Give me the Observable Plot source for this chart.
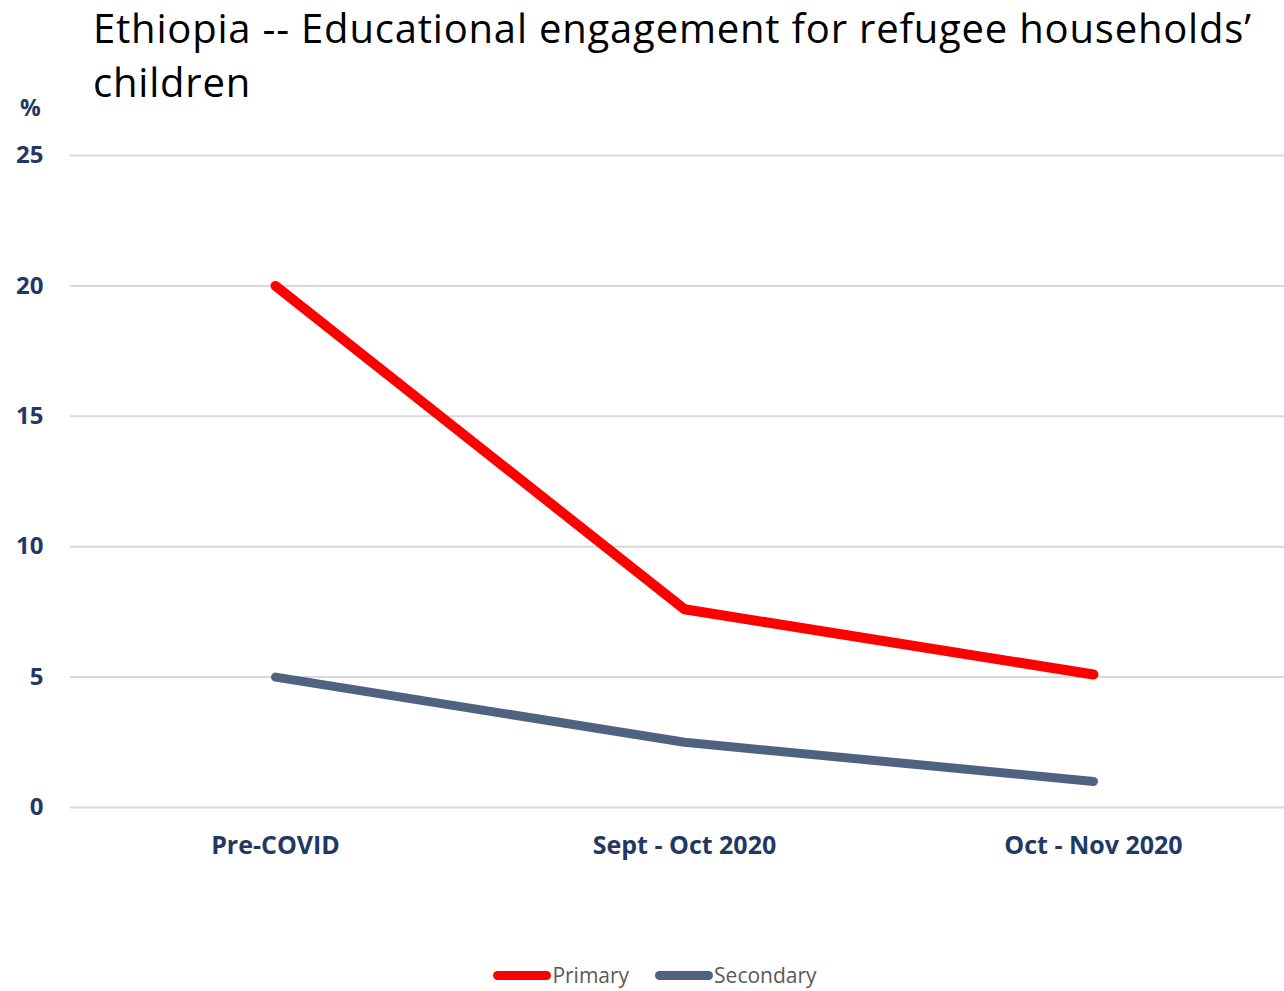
<!DOCTYPE html>
<html>
<head>
<meta charset="utf-8">
<script src="https://cdn.jsdelivr.net/npm/d3@7"></script>
<script src="https://cdn.jsdelivr.net/npm/@observablehq/plot@0.6"></script>
<style>
  html, body { margin: 0; padding: 0; background: #fff; }
  #wrap { position: relative; width: 1284px; height: 991px; overflow: hidden; font-family: "Open Sans", sans-serif; }
  #title { position: absolute; left: 93px; top: 1px; font-size: 40px; letter-spacing: 0.8px; line-height: 54px; color: #000; white-space: nowrap; }
  #unit { position: absolute; left: 20px; top: 91px; font-size: 23px; font-weight: bold; color: #1f3864; }
  #chart { position: absolute; left: 0; top: 0; }
  #legend { position: absolute; top: 961px; left: 13px; width: 1284px; display: flex; justify-content: center; gap: 26px; font-size: 21px; line-height: 28px; color: #595959; }
  .item { display: flex; align-items: center; }
  .sw { width: 58px; height: 9px; border-radius: 5px; margin-right: 1px; }
</style>
</head>
<body>
<div id="wrap">
  <div id="chart"></div>
  <div id="title">Ethiopia -- Educational engagement for refugee households’<br>children</div>
  <div id="unit">%</div>
  <div id="legend"></div>
</div>
<script>
const categories = ["Pre-COVID", "Sept - Oct 2020", "Oct - Nov 2020"];
const primaryValues = [20.0, 7.6, 5.1];
const secondaryValues = [5.0, 2.5, 1.0];
const yTicks = [0, 5, 10, 15, 20, 25];
const seriesNames = ["Primary", "Secondary"];
const seriesColors = ["#ff0000", "#4f6380"];

const data = [
  ...categories.map((c, i) => ({cat: c, value: primaryValues[i], series: "Primary"})),
  ...categories.map((c, i) => ({cat: c, value: secondaryValues[i], series: "Secondary"}))
];

const chart = Plot.plot({
  width: 1284,
  height: 900,
  marginTop: 155,
  marginBottom: 93,
  marginLeft: 70,
  marginRight: 0,
  style: {fontFamily: "Open Sans, sans-serif", background: "transparent"},
  x: {type: "point", domain: categories, range: [70, 1298], padding: 0.5},
  y: {domain: [0, 25], ticks: yTicks},
  marks: [
    Plot.gridY(yTicks, {stroke: "#d9d9d9", strokeOpacity: 1, strokeWidth: 2}),
    Plot.axisY(yTicks, {tickSize: 0, tickPadding: 27, fontSize: 24, fontWeight: "bold", fill: "#1f3864", label: null}),
    Plot.axisX({tickSize: 0, tickPadding: 29, fontSize: 25, fontWeight: "bold", fill: "#1f3864", label: null}),
    Plot.line(data.filter(d => d.series === "Secondary"), {x: "cat", y: "value", stroke: seriesColors[1], strokeWidth: 9, strokeLinecap: "round", strokeLinejoin: "round"}),
    Plot.line(data.filter(d => d.series === "Primary"), {x: "cat", y: "value", stroke: seriesColors[0], strokeWidth: 10, strokeLinecap: "round", strokeLinejoin: "round"})
  ]
});
document.getElementById("chart").appendChild(chart);

const legend = document.getElementById("legend");
seriesNames.forEach((n, i) => {
  const item = document.createElement("div");
  item.className = "item";
  const sw = document.createElement("div");
  sw.className = "sw";
  sw.style.background = seriesColors[i];
  const t = document.createElement("span");
  t.textContent = n;
  item.appendChild(sw);
  item.appendChild(t);
  legend.appendChild(item);
});
</script>
</body>
</html>
